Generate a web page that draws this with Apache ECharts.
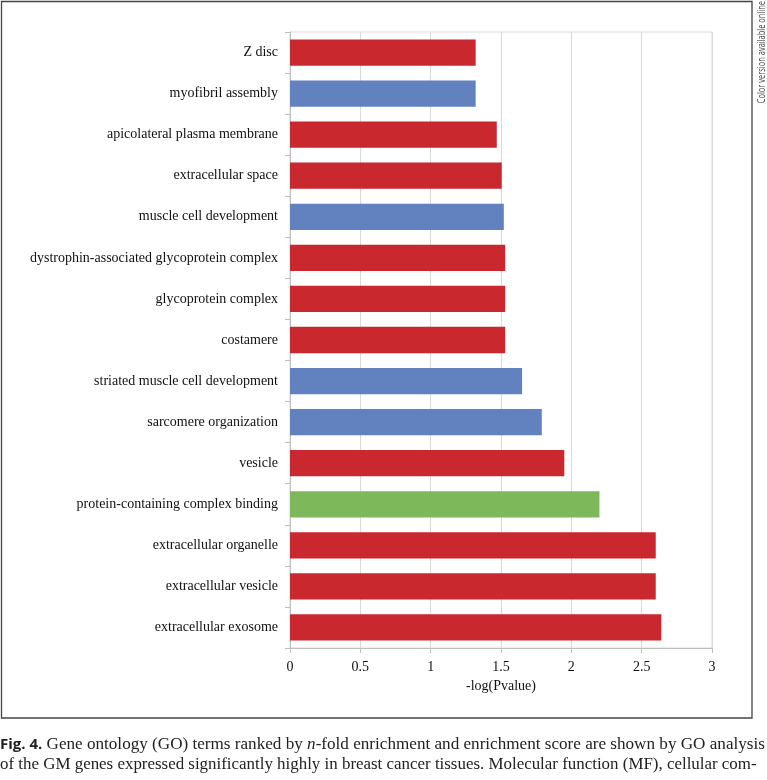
<!DOCTYPE html>
<html>
<head>
<meta charset="utf-8">
<script src="https://cdn.jsdelivr.net/npm/echarts@6/dist/echarts.min.js"></script>
<style>
html,body{margin:0;padding:0;background:#fff;}
#chart{width:767px;height:780px;}
</style>
</head>
<body>
<div id="chart"></div>
<script>
// Categories listed bottom-to-top (category axis order)
var categories = [
  'extracellular exosome',
  'extracellular vesicle',
  'extracellular organelle',
  'protein-containing complex binding',
  'vesicle',
  'sarcomere organization',
  'striated muscle cell development',
  'costamere',
  'glycoprotein complex',
  'dystrophin-associated glycoprotein complex',
  'muscle cell development',
  'extracellular space',
  'apicolateral plasma membrane',
  'myofibril assembly',
  'Z disc'
];
var values = [2.64, 2.60, 2.60, 2.20, 1.95, 1.79, 1.65, 1.53, 1.53, 1.53, 1.52, 1.505, 1.47, 1.32, 1.32];
var goTypes = ['CC','CC','CC','MF','CC','BP','BP','CC','CC','CC','BP','CC','CC','BP','CC'];
var typeColors = {CC:'#C8282E', BP:'#6182BE', MF:'#7DB95B'};

var chart = echarts.init(document.getElementById('chart'), null, {renderer:'canvas'});
var serif = '"Liberation Serif","Times New Roman",serif';

var option = {
  backgroundColor:'#fff',
  animation:false,
  grid:{left:290, right:55, top:32, bottom:132, show:true, borderColor:'#d9d9d9', borderWidth:1},
  xAxis:{
    type:'value', min:0, max:3, interval:0.5,
    name:'-log(Pvalue)', nameLocation:'middle', nameGap:31,
    nameTextStyle:{fontFamily:serif, fontSize:14, color:'#111'},
    axisLine:{show:true, lineStyle:{color:'#bfbfbf'}},
    axisTick:{show:true, length:5, lineStyle:{color:'#bfbfbf'}},
    axisLabel:{fontFamily:serif, fontSize:14, color:'#111', margin:12,
      formatter:function(v){ return String(v); }},
    splitLine:{show:true, lineStyle:{color:'#d9d9d9'}}
  },
  yAxis:{
    type:'category', data:categories,
    axisLine:{show:true, lineStyle:{color:'#bfbfbf'}},
    axisTick:{show:true, length:5, alignWithLabel:false, lineStyle:{color:'#bfbfbf'}},
    axisLabel:{fontFamily:serif, fontSize:14, color:'#111', margin:12},
    splitLine:{show:false}
  },
  series:[{
    type:'bar',
    data:values.map(function(v,i){
      return {value:v, itemStyle:{color:typeColors[goTypes[i]]}};
    }),
    barCategoryGap:'36%'
  }],
  graphic:[
    {type:'rect', shape:{x:1.5, y:1.5, width:750.5, height:716.5}, style:{fill:'none', stroke:'#444', lineWidth:1.3}, silent:true},
    {type:'text', x:767, y:1, rotation:Math.PI/2, scaleX:0.68, style:{text:'Color version available online', font:'11px "Open Sans", sans-serif', fill:'#444', textAlign:'right', textVerticalAlign:'bottom'}},
    {type:'text', x:0, y:737, scaleX:1.07, style:{
      text:'{b|Fig. 4.} Gene ontology (GO) terms ranked by {i|n}-fold enrichment and enrichment score are shown by GO analysis',
      rich:{b:{font:'bold 14px "Open Sans", sans-serif', fill:'#222'}, i:{font:'italic 16px "Liberation Serif", serif', fill:'#222'}},
      font:'16px "Liberation Serif", serif', fill:'#222'}},
    {type:'text', x:0, y:757, scaleX:1.057, style:{
      text:'of the GM genes expressed significantly highly in breast cancer tissues. Molecular function (MF), cellular com-',
      font:'16px "Liberation Serif", serif', fill:'#222'}}
  ]
};
chart.setOption(option);
</script>
</body>
</html>
